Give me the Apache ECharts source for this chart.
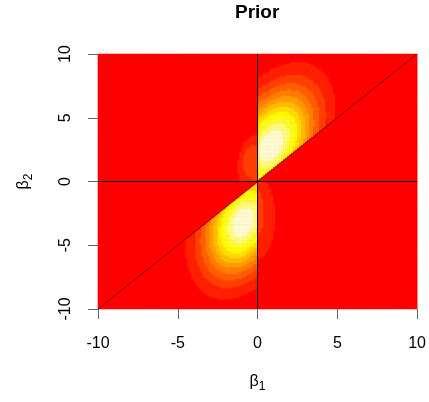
<!DOCTYPE html>
<html><head><meta charset="utf-8">
<script src="https://cdn.jsdelivr.net/npm/echarts@6/dist/echarts.min.js"></script>
<style>html,body{margin:0;padding:0;background:#fff}#c{width:429px;height:402px}</style>
</head><body><div id="c"></div>
<script>
// ---- data ----
const xTicks = [-10, -5, 0, 5, 10];
const yTicks = [-10, -5, 0, 5, 10];
// R heat.colors(12) bands, lowest to highest
const bandColors = ['#FF0000','#FF2000','#FF4000','#FF6000','#FF8000','#FF9F00','#FFBF00','#FFDF00','#FFFF00','#FFFF2A','#FFFF80','#FFFFD5'];
// main lobes: [upper (b1>0, b2>b1), lower (b1<0, b2<b1)]
const blobCx  = [0.87, -0.87];
const blobCy  = [2.85, -3.2];
const blobSx  = [1.82, 1.62];
const blobSy  = [2.93, 2.72];
const blobRho = [0.42, 0.32];
// weak side lobes: B (b1<0, b2>0) and D (b1>0, b2<0), as band outlines
const lobeSide  = ['B', 'B', 'D', 'D'];
const lobeCx    = [0, 0, 0, 0];
const lobeCy    = [1.2, 1.5, -2.8, -2.45];
const lobeRx    = [1.22, 0.93, 1.12, 0.4];
const lobeRy    = [2.5, 1.4, 3.3, 1.8];
const lobeLevel = [1, 2, 1, 2];
// reference lines (abline h=0, v=0, a=0 b=1)
const hLine = [[-10, 0], [10, 0]];
const vLine = [[0, -10], [0, 10]];
const dLine = [[-10, -10], [10, 10]];
const nCells = 160;

// ---- grid of cells ----
const step = 20 / nCells;
const centers = [];
for (let i = 0; i < nCells; i++) centers.push(-10 + step * (i + 0.5));

function blobLevel(b, x, y) {
  const dx = (x - blobCx[b]) / blobSx[b], dy = (y - blobCy[b]) / blobSy[b], r = blobRho[b];
  const q = (dx * dx - 2 * r * dx * dy + dy * dy) / (1 - r * r);
  return Math.min(11, Math.floor(Math.exp(-q / 2) * 12));
}
function lobeLevelAt(side, x, y) {
  let lv = 0;
  for (let k = 0; k < lobeSide.length; k++) {
    if (lobeSide[k] !== side) continue;
    const u = (x - lobeCx[k]) / lobeRx[k], v = (y - lobeCy[k]) / lobeRy[k];
    if (u * u + v * v <= 1) lv = Math.max(lv, lobeLevel[k]);
  }
  return lv;
}
const cells = [];
for (let i = 0; i < nCells; i++) {
  for (let j = 0; j < nCells; j++) {
    const x = centers[i], y = centers[j];
    let lv = 0;
    if (x > 0 && y > x) lv = blobLevel(0, x, y);
    else if (x < 0 && y < x) lv = blobLevel(1, x, y);
    else if (x < 0 && y > 0) lv = lobeLevelAt('B', x, y);
    else if (x > 0 && y < 0) lv = lobeLevelAt('D', x, y);
    cells.push([i, j, lv]);
  }
}

const FONT = 'Liberation Sans, Arial, Helvetica, sans-serif';
const chart = echarts.init(document.getElementById('c'), null, {renderer: 'canvas'});
const subRich = {
  b: {fontSize: 16, fontFamily: FONT, color: '#000'},
  s: {fontSize: 12, fontFamily: FONT, color: '#000', padding: [10, 0, 0, 0]}
};
chart.setOption({
  animation: false,
  textStyle: {fontFamily: FONT},
  title: {
    text: 'Prior', left: 235, top: 3, padding: 0,
    textStyle: {fontSize: 19, fontWeight: 'bold', color: '#000', fontFamily: FONT}
  },
  grid: {left: 98, top: 54, width: 322, height: 255, show: true, backgroundColor: '#FF0000', borderWidth: 0, borderColor: 'transparent'},
  xAxis: [
    {type: 'category', data: centers, show: false, gridIndex: 0,
     axisLine: {show: false}, axisTick: {show: false}, axisLabel: {show: false}, splitLine: {show: false}},
    {type: 'value', min: xTicks[0], max: xTicks[xTicks.length - 1], interval: 5, position: 'bottom', z: 10,
     axisLine: {show: false, onZero: false},
     axisTick: {show: true, length: 10, lineStyle: {color: '#666'}},
     axisLabel: {fontSize: 16, color: '#000', margin: 27, showMinLabel: true, showMaxLabel: true, fontFamily: FONT},
     splitLine: {show: false},
     name: '{b|β}{s|1}', nameLocation: 'middle', nameGap: 62,
     nameTextStyle: {rich: subRich}}
  ],
  yAxis: [
    {type: 'category', data: centers, show: false, gridIndex: 0,
     axisLine: {show: false}, axisTick: {show: false}, axisLabel: {show: false}, splitLine: {show: false}},
    {type: 'value', min: yTicks[0], max: yTicks[yTicks.length - 1], interval: 5, position: 'left', z: 10,
     axisLine: {show: false, onZero: false},
     axisTick: {show: true, length: 10, lineStyle: {color: '#666'}},
     axisLabel: {fontSize: 16, color: '#000', margin: 24, rotate: 90, showMinLabel: true, showMaxLabel: true, fontFamily: FONT},
     splitLine: {show: false},
     name: '{b|β}{s|2}', nameLocation: 'middle', nameGap: 63, nameRotate: 90,
     nameTextStyle: {rich: subRich}}
  ],
  visualMap: {
    type: 'piecewise', show: false, dimension: 2, seriesIndex: 0,
    pieces: bandColors.map((c, k) => ({value: k, color: c}))
  },
  series: [
    {type: 'heatmap', xAxisIndex: 0, yAxisIndex: 0, data: cells, progressive: 0,
     emphasis: {disabled: true}, itemStyle: {borderWidth: 0}},
    {type: 'line', xAxisIndex: 1, yAxisIndex: 1, data: hLine, symbol: 'none', z: 5,
     lineStyle: {color: '#000', width: 1}},
    {type: 'line', xAxisIndex: 1, yAxisIndex: 1, data: vLine, symbol: 'none', z: 5,
     lineStyle: {color: '#000', width: 1}},
    {type: 'line', xAxisIndex: 1, yAxisIndex: 1, data: dLine, symbol: 'none', z: 5,
     lineStyle: {color: '#400000', width: 0.6}}
  ]
});
</script></body></html>
